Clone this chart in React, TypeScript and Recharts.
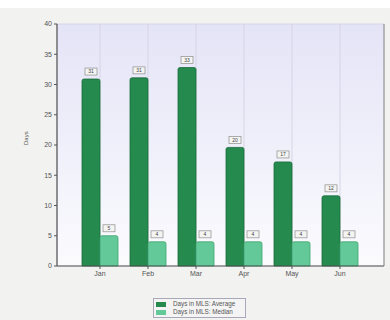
import React from 'react';
import {
  BarChart,
  Bar,
  XAxis,
  YAxis,
  CartesianGrid,
  LabelList,
} from 'recharts';

const months = ['Jan', 'Feb', 'Mar', 'Apr', 'May', 'Jun'];
const averageDays = [30.9, 31.1, 32.8, 19.6, 17.2, 11.6];
const medianDays = [5, 4, 4, 4, 4, 4];
const yTicks = [0, 5, 10, 15, 20, 25, 30, 35, 40];

const AVG_COLOR = '#248a4e';
const AVG_STROKE = '#1a6a3a';
const MED_COLOR = '#63c999';
const MED_STROKE = '#3da36f';

const data = months.map((m, i) => ({
  month: m,
  average: averageDays[i],
  median: medianDays[i],
}));

const FONT = '"Liberation Sans", Arial, sans-serif';

// small boxed value tag above each bar
const ValueTag = (props: any) => {
  const { x, y, width, value } = props;
  const cx = x + width / 2;
  const w = 12;
  const h = 7;
  const top = y - h - 4;
  return (
    <g>
      <rect
        x={cx - w / 2}
        y={top}
        width={w}
        height={h}
        fill="#f4f4f2"
        stroke="#9a9a9a"
        strokeWidth={0.8}
      />
      <text
        x={cx}
        y={top + h / 2 + 0.3}
        fontSize={5}
        fontFamily={FONT}
        fill="#444"
        textAnchor="middle"
        dominantBaseline="middle"
      >
        {Math.round(value)}
      </text>
    </g>
  );
};

export default function App() {
  return (
    <div
      style={{
        position: 'absolute',
        left: 0,
        top: 0,
        width: 390,
        height: 320,
        background: '#ffffff',
      }}
    >
      <div
        style={{
          position: 'absolute',
          left: 0,
          top: 8,
          width: 390,
          height: 312,
          background: '#f2f2f0',
        }}
      />
      <div style={{ position: 'absolute', left: 0, top: 0 }}>
        <BarChart
          width={390}
          height={320}
          data={data}
          margin={{ top: 24, right: 0, bottom: 34, left: 0 }}
          barCategoryGap="12.5%"
          barGap={0}
        >
          <defs>
            <linearGradient id="plotBg" x1="0" y1="0" x2="0" y2="1">
              <stop offset="0%" stopColor="#e4e4f7" />
              <stop offset="100%" stopColor="#fbfbfe" />
            </linearGradient>
          </defs>
          <CartesianGrid
            fill="url(#plotBg)"
            fillOpacity={1}
            stroke="#d2d2e2"
            strokeWidth={0.9}
          />
          <XAxis
            dataKey="month"
            padding={{ left: 19, right: 20 }}
            height={20}
            tick={{ fontSize: 7, fill: '#555', fontFamily: FONT }}
            tickLine={{ stroke: '#555' }}
            tickSize={3}
            axisLine={{ stroke: '#555', strokeWidth: 1.2 }}
          />
          <YAxis
            yAxisId="left"
            domain={[0, 40]}
            ticks={yTicks}
            width={57}
            tick={{ fontSize: 7, fill: '#555', fontFamily: FONT }}
            tickLine={{ stroke: '#555' }}
            tickSize={3}
            axisLine={{ stroke: '#555', strokeWidth: 1.2 }}
            label={{
              value: 'Days',
              angle: -90,
              position: 'insideLeft',
              offset: 26,
              style: { fontSize: 6, fill: '#555', fontFamily: FONT },
            }}
          />
          <YAxis
            yAxisId="right"
            orientation="right"
            domain={[0, 40]}
            width={6}
            tick={false}
            tickLine={false}
            axisLine={{ stroke: '#8a8a8a', strokeWidth: 1 }}
          />
          <Bar
            yAxisId="left"
            dataKey="average"
            fill={AVG_COLOR}
            stroke={AVG_STROKE}
            strokeWidth={0.8}
            radius={[2, 2, 0, 0]}
            isAnimationActive={false}
          >
            <LabelList dataKey="average" content={ValueTag} />
          </Bar>
          <Bar
            yAxisId="left"
            dataKey="median"
            fill={MED_COLOR}
            stroke={MED_STROKE}
            strokeWidth={0.8}
            radius={[2, 2, 0, 0]}
            isAnimationActive={false}
          >
            <LabelList dataKey="median" content={ValueTag} />
          </Bar>
        </BarChart>
      </div>
      <div
        style={{
          position: 'absolute',
          left: 153,
          top: 298,
          width: 93,
          height: 20,
          border: '1px solid #a8a8b8',
          background: '#f4f4f4',
          boxSizing: 'border-box',
          fontFamily: FONT,
          fontSize: 6.3,
          color: '#555',
          lineHeight: '6px',
        }}
      >
        {[
          { name: 'Days in MLS: Average', color: AVG_COLOR },
          { name: 'Days in MLS: Median', color: MED_COLOR },
        ].map((it, i) => (
          <div
            key={it.name}
            style={{
              position: 'absolute',
              left: 2,
              top: 2 + i * 8,
              display: 'flex',
              alignItems: 'center',
              whiteSpace: 'nowrap',
            }}
          >
            <span
              style={{
                display: 'inline-block',
                width: 10,
                height: 5,
                background: it.color,
                marginRight: 7,
              }}
            />
            <span>{it.name}</span>
          </div>
        ))}
      </div>
    </div>
  );
}
